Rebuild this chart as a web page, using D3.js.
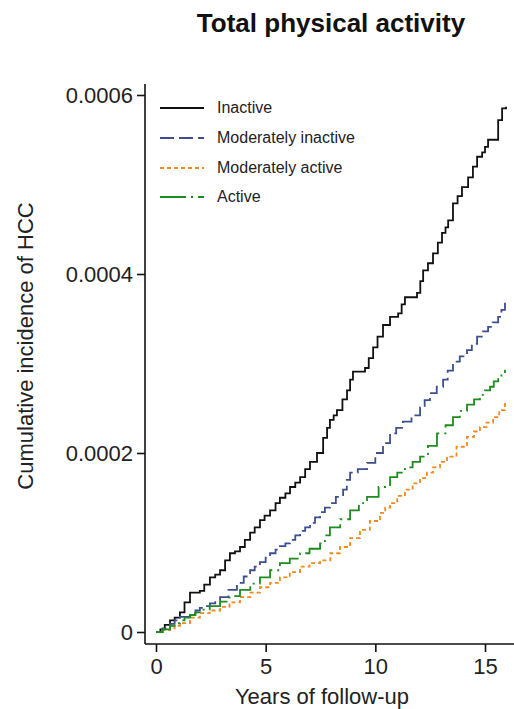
<!DOCTYPE html>
<html lang="en">
<head>
	<meta charset="UTF-8">
	<title>Total physical activity</title>
	<script src="https://cdnjs.cloudflare.com/ajax/libs/d3/7.8.5/d3.min.js"></script>
	<style>
		body {
			margin: 0;
			background-color: #fff;
			font-family: "Liberation Sans", Arial, sans-serif;
		}
		.tick text {
			font-size: 22px;
			fill: #222;
		}
		.axis-title {
			font-size: 22px;
			fill: #222;
		}
		.legend text {
			font-size: 16px;
			fill: #222;
		}
	</style>
</head>
<body>
	<div id="chart"></div>

	<script>
		// years of follow-up and cumulative incidence (x 1e-4)
		const inactiveT = [0, 0.2, 0.4, 0.64, 0.85, 1.09, 1.3, 1.55, 2.0, 2.2, 2.46, 2.7, 2.92, 3.15, 3.37, 3.6, 3.83, 4.05, 4.29, 4.5, 4.74, 4.95, 5.2, 5.45, 5.65, 5.9, 6.11, 6.35, 6.57, 6.8, 7.02, 7.34, 7.62, 7.8, 7.93, 8.1, 8.25, 8.5, 8.71, 8.85, 8.98, 9.53, 9.7, 9.9, 10.1, 10.35, 10.67, 11.04, 11.2, 11.35, 11.9, 12.05, 12.18, 12.4, 12.63, 12.85, 13.04, 13.2, 13.32, 13.54, 13.75, 13.95, 14.23, 14.45, 14.64, 14.87, 15.0, 15.14, 15.55, 15.6, 15.78, 15.96];
		const inactiveV = [0, 0.03, 0.08, 0.13, 0.16, 0.22, 0.33, 0.44, 0.46, 0.53, 0.61, 0.64, 0.69, 0.80, 0.88, 0.90, 0.95, 1.03, 1.11, 1.17, 1.25, 1.30, 1.36, 1.44, 1.50, 1.55, 1.62, 1.67, 1.73, 1.82, 1.90, 2.0, 2.17, 2.28, 2.37, 2.42, 2.48, 2.60, 2.70, 2.82, 2.91, 2.95, 3.06, 3.18, 3.30, 3.43, 3.52, 3.56, 3.66, 3.74, 3.79, 3.92, 4.04, 4.12, 4.23, 4.35, 4.46, 4.52, 4.60, 4.79, 4.87, 4.97, 5.08, 5.20, 5.31, 5.36, 5.42, 5.50, 5.50, 5.72, 5.85, 5.87];

		const modInactiveT = [0, 0.3, 0.64, 0.85, 1.09, 1.55, 1.8, 2.0, 2.25, 2.46, 2.7, 2.92, 3.3, 3.69, 4.0, 4.29, 4.5, 4.74, 5.0, 5.2, 5.45, 5.65, 5.9, 6.11, 6.35, 6.57, 6.8, 7.02, 7.25, 7.48, 7.7, 7.93, 8.2, 8.53, 8.7, 8.85, 9.2, 9.62, 10.0, 10.35, 10.67, 10.95, 11.26, 11.65, 12.04, 12.25, 12.49, 12.8, 13.09, 13.3, 13.54, 13.85, 14.18, 14.4, 14.64, 14.9, 15.14, 15.35, 15.6, 15.75, 15.91];
		const modInactiveV = [0, 0.04, 0.09, 0.13, 0.17, 0.21, 0.24, 0.27, 0.29, 0.32, 0.35, 0.39, 0.47, 0.55, 0.62, 0.69, 0.73, 0.78, 0.83, 0.88, 0.92, 0.96, 0.99, 1.03, 1.08, 1.13, 1.17, 1.22, 1.28, 1.34, 1.39, 1.44, 1.51, 1.59, 1.70, 1.78, 1.82, 1.89, 2.00, 2.11, 2.22, 2.28, 2.35, 2.42, 2.51, 2.59, 2.67, 2.74, 2.82, 2.92, 3.02, 3.08, 3.15, 3.22, 3.30, 3.36, 3.41, 3.46, 3.52, 3.60, 3.68];

		const modActiveT = [0, 0.3, 0.64, 0.85, 1.09, 1.55, 2.0, 2.45, 2.92, 3.35, 3.83, 4.3, 4.74, 5.2, 5.65, 6.1, 6.57, 7.0, 7.48, 7.95, 8.39, 8.85, 9.3, 9.75, 10.21, 10.45, 10.67, 11.0, 11.35, 11.7, 12.04, 12.35, 12.63, 12.95, 13.27, 13.7, 14.18, 14.5, 14.77, 15.07, 15.37, 15.65, 15.91];
		const modActiveV = [0, 0.02, 0.04, 0.07, 0.10, 0.16, 0.21, 0.24, 0.28, 0.33, 0.39, 0.44, 0.50, 0.55, 0.61, 0.67, 0.73, 0.77, 0.80, 0.88, 0.95, 1.05, 1.14, 1.24, 1.33, 1.39, 1.44, 1.52, 1.59, 1.66, 1.72, 1.78, 1.84, 1.90, 1.96, 2.07, 2.18, 2.24, 2.29, 2.34, 2.40, 2.48, 2.56];

		const activeT = [0, 0.3, 0.64, 0.85, 1.09, 1.3, 1.55, 1.8, 2.0, 2.45, 2.92, 3.35, 3.83, 4.3, 4.74, 5.2, 5.65, 6.1, 6.57, 7.0, 7.48, 7.7, 7.93, 8.4, 8.85, 9.25, 9.62, 10.15, 10.67, 11.0, 11.35, 11.7, 12.04, 12.4, 12.81, 13.2, 13.54, 13.85, 14.18, 14.5, 14.77, 15.0, 15.23, 15.4, 15.6, 15.75, 15.91];
		const activeV = [0, 0.03, 0.07, 0.10, 0.13, 0.16, 0.19, 0.22, 0.25, 0.29, 0.34, 0.40, 0.47, 0.54, 0.61, 0.69, 0.77, 0.82, 0.88, 0.93, 0.99, 1.08, 1.17, 1.26, 1.36, 1.44, 1.51, 1.62, 1.73, 1.78, 1.84, 1.90, 1.96, 2.08, 2.22, 2.31, 2.40, 2.47, 2.54, 2.60, 2.65, 2.70, 2.74, 2.80, 2.85, 2.89, 2.93];

		const groups = ["Inactive", "Moderately inactive", "Moderately active", "Active"];
		const xTicks = [0, 5, 10, 15];
		const yTicks = [0, 0.0002, 0.0004, 0.0006];

		const series = [
			{ name: groups[0], t: inactiveT, v: inactiveV, color: "#111", dash: null },
			{ name: groups[1], t: modInactiveT, v: modInactiveV, color: "#3d4f8f", dash: "14,5" },
			{ name: groups[2], t: modActiveT, v: modActiveV, color: "#f08a1c", dash: "4,3" },
			{ name: groups[3], t: activeT, v: activeV, color: "#1e8c1e", dash: "26,5,2,5" }
		];

		const width = 514, height = 709;

		const svg = d3.select("#chart")
			.append("svg")
			.attr("width", width)
			.attr("height", height);

		const x = d3.scaleLinear().domain([0, 15]).range([156, 485]);
		const y = d3.scaleLinear().domain([0, 0.0006]).range([632, 95]);

		// axis lines sit a little outside the data range, as in the original
		const axisLeftX = 145, axisBottomY = 644;

		svg.append("line")
			.attr("x1", axisLeftX).attr("x2", axisLeftX)
			.attr("y1", 84).attr("y2", axisBottomY)
			.attr("stroke", "#111").attr("stroke-width", 1.6);
		svg.append("line")
			.attr("x1", axisLeftX).attr("x2", width)
			.attr("y1", axisBottomY).attr("y2", axisBottomY)
			.attr("stroke", "#111").attr("stroke-width", 1.6);

		const yAxis = svg.append("g")
			.attr("transform", `translate(${axisLeftX},0)`)
			.call(d3.axisLeft(y).tickValues(yTicks).tickSize(8).tickPadding(4)
				.tickFormat(d => d === 0 ? "0" : d3.format(".4f")(d)));
		yAxis.select(".domain").remove();
		yAxis.selectAll(".tick line").attr("stroke", "#111").attr("stroke-width", 1.6);

		const xAxis = svg.append("g")
			.attr("transform", `translate(0,${axisBottomY})`)
			.call(d3.axisBottom(x).tickValues(xTicks).tickSize(8).tickPadding(6));
		xAxis.select(".domain").remove();
		xAxis.selectAll(".tick line").attr("stroke", "#111").attr("stroke-width", 1.6);

		svg.selectAll(".tick text").attr("font-family", null).attr("font-size", null);

		const line = d3.line()
			.x(d => x(d[0]))
			.y(d => y(d[1] * 1e-4))
			.curve(d3.curveStepAfter);

		svg.selectAll(".curve")
			.data(series)
			.enter().append("path")
			.attr("class", "curve")
			.attr("fill", "none")
			.attr("stroke", d => d.color)
			.attr("stroke-width", 1.8)
			.attr("stroke-dasharray", d => d.dash)
			.attr("d", d => line(d.t.map((t, i) => [t, d.v[i]])));

		// legend
		const legend = svg.append("g").attr("class", "legend");
		const rowY = [108, 138, 168, 197];
		series.forEach((s, i) => {
			legend.append("line")
				.attr("x1", 160).attr("x2", 204)
				.attr("y1", rowY[i]).attr("y2", rowY[i])
				.attr("stroke", s.color)
				.attr("stroke-width", 1.8)
				.attr("stroke-dasharray", s.dash);
			legend.append("text")
				.attr("x", 217)
				.attr("y", rowY[i] + 5)
				.text(s.name);
		});

		svg.append("text")
			.attr("x", 331)
			.attr("y", 32)
			.attr("text-anchor", "middle")
			.attr("font-size", 26)
			.attr("font-weight", "bold")
			.attr("fill", "#111")
			.text("Total physical activity");

		svg.append("text")
			.attr("class", "axis-title")
			.attr("x", 322)
			.attr("y", 704)
			.attr("text-anchor", "middle")
			.text("Years of follow-up");

		svg.append("text")
			.attr("class", "axis-title")
			.attr("transform", "translate(33,346) rotate(-90)")
			.attr("text-anchor", "middle")
			.attr("font-size", 23)
			.text("Cumulative incidence of HCC");
	</script>
</body>
</html>
